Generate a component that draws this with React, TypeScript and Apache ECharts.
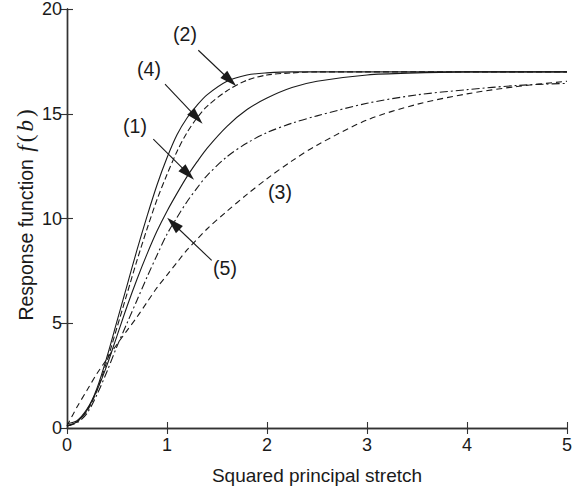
import React, { useEffect, useRef } from "react";
import * as echarts from "echarts";

const xs = [0, 0.1, 0.2, 0.3, 0.4, 0.5, 0.6, 0.7, 0.8, 0.9, 1.0, 1.1, 1.2, 1.3, 1.4, 1.6, 1.8, 2.0, 2.25, 2.5, 3.0, 3.5, 4.0, 4.5, 5.0];

const curve1 = [0.2, 0.35, 0.9, 1.8, 3.0, 4.4, 5.8, 7.1, 8.3, 9.4, 10.35, 11.2, 12.0, 12.7, 13.35, 14.4, 15.2, 15.75, 16.25, 16.55, 16.85, 16.95, 17, 17, 17];
const curve2 = [0.1, 0.3, 0.85, 1.9, 3.4, 5.1, 6.8, 8.5, 10.1, 11.6, 12.9, 14.0, 14.8, 15.4, 15.9, 16.55, 16.85, 16.95, 17, 17, 17, 17, 17, 17, 17];
const curve3 = [0.1, 1.0, 1.8, 2.6, 3.3, 4.0, 4.65, 5.3, 6.0, 6.7, 7.3, 7.9, 8.5, 9.0, 9.5, 10.35, 11.15, 11.9, 12.75, 13.5, 14.7, 15.45, 15.95, 16.3, 16.55];
const curve4 = [0.1, 0.3, 0.8, 1.8, 3.2, 4.8, 6.4, 8.0, 9.5, 10.9, 12.1, 13.2, 14.1, 14.8, 15.35, 16.1, 16.6, 16.85, 16.95, 17, 17, 17, 17, 17, 17];
const curve5 = [0.1, 0.25, 0.7, 1.6, 2.7, 3.9, 5.0, 6.1, 7.2, 8.25, 9.25, 10.05, 10.8, 11.45, 12.05, 12.95, 13.6, 14.1, 14.55, 14.9, 15.5, 15.9, 16.15, 16.35, 16.45];

const xTicks = [0, 1, 2, 3, 4, 5];
const yTicks = [0, 5, 10, 15, 20];

const labelNames = ["(1)", "(2)", "(3)", "(4)", "(5)"];
const labelX = [0.685, 1.185, 2.135, 0.825, 1.585];
const labelY = [14.38, 18.76, 11.24, 17.1, 7.62];

// arrows for (1), (2), (4), (5): from -> to
const arrowFromX = [0.863, 1.313, 0.98, 1.447];
const arrowFromY = [13.79, 18.03, 16.41, 8.0];
const arrowToX = [1.21, 1.63, 1.297, 1.063];
const arrowToY = [12.14, 16.6, 14.82, 9.75];

const INK = "#1a1a1a";
const SANS = "'Liberation Sans', Arial, sans-serif";
const SERIF = "'Liberation Serif', 'DejaVu Serif', serif";

export default function App() {
  const ref = useRef<HTMLDivElement>(null);
  useEffect(() => {
    if (!ref.current) return;
    const chart = echarts.init(ref.current, null, { renderer: "svg" });
    const pts = (ys: number[]) => xs.map((x, i) => [x, ys[i]]);
    const lineSeries = (ys: number[], type: any) => ({
      type: "line",
      data: pts(ys),
      showSymbol: false,
      smooth: 0.3,
      silent: true,
      lineStyle: { color: INK, width: 1.1, type },
    });
    const axisCommon = {
      axisLine: { show: true, lineStyle: { color: "#333", width: 1.4 } },
      axisTick: { show: true, inside: true, length: 6, lineStyle: { color: "#333", width: 1.1 } },
      splitLine: { show: false },
    };
    const arrowData = arrowFromX.map((fx, i) => [
      { coord: [fx, arrowFromY[i]], symbol: "none" },
      { coord: [arrowToX[i], arrowToY[i]], symbol: "triangle", symbolSize: [10, 17] },
    ]);
    chart.setOption({
      animation: false,
      grid: { left: 67, right: 7, top: 8, bottom: 65, containLabel: false },
      xAxis: [
        {
          type: "value",
          min: xTicks[0],
          max: xTicks[xTicks.length - 1],
          interval: 1,
          ...axisCommon,
          axisLabel: { color: INK, fontSize: 18, fontFamily: SANS, margin: 8 },
          name: "Squared principal stretch",
          nameLocation: "middle",
          nameGap: 38,
          nameTextStyle: { color: INK, fontSize: 19, fontFamily: SANS },
        },
        {
          type: "value",
          position: "top",
          min: xTicks[0],
          max: xTicks[xTicks.length - 1],
          interval: 1,
          ...axisCommon,
          axisLabel: { show: false },
        },
      ],
      yAxis: [
        {
          type: "value",
          min: yTicks[0],
          max: yTicks[yTicks.length - 1],
          interval: 5,
          ...axisCommon,
          axisLabel: { color: INK, fontSize: 18, fontFamily: SANS, margin: 5 },
          name: "{a|Response function }{i|f}{s|(}{i|b}{s|)}",
          nameLocation: "middle",
          nameMoveOverlap: false,
          nameGap: 30,
          nameTextStyle: {
            color: INK,
            padding: [0, 0, 0, 8],
            rich: {
              a: { fontSize: 19.5, fontFamily: SANS, color: INK },
              i: { fontSize: 23, fontFamily: SERIF, fontStyle: "italic", color: INK, padding: [0, 2, 0, 2] },
              s: { fontSize: 23, fontFamily: SERIF, color: INK, padding: [0, 1, 0, 1] },
            },
          },
        },
        {
          type: "value",
          position: "right",
          min: yTicks[0],
          max: yTicks[yTicks.length - 1],
          interval: 5,
          ...axisCommon,
          axisLabel: { show: false },
        },
      ],
      series: [
        lineSeries(curve1, "solid"),
        lineSeries(curve2, "solid"),
        lineSeries(curve3, [6, 4]),
        lineSeries(curve4, [6, 3]),
        lineSeries(curve5, [8, 3, 2, 3]),
        {
          type: "scatter",
          silent: true,
          symbolSize: 1,
          itemStyle: { color: "rgba(0,0,0,0)" },
          data: labelNames.map((n, i) => ({ value: [labelX[i], labelY[i]], name: n })),
          label: {
            show: true,
            position: [0, 0],
            align: "center",
            verticalAlign: "middle",
            formatter: (p: any) => p.name,
            color: INK,
            opacity: 1,
            fontSize: 19.5,
            fontFamily: SANS,
            textBorderWidth: 0,
            textBorderColor: "transparent",
          },
          markLine: {
            silent: true,
            animation: false,
            label: { show: false },
            lineStyle: { color: INK, width: 1.1, type: "solid" },
            data: arrowData,
          },
        },
      ],
    });
    return () => chart.dispose();
  }, []);
  return (
    <div
      ref={ref}
      style={{ position: "fixed", left: 0, top: 0, width: 575, height: 493, background: "#fff" }}
    />
  );
}
